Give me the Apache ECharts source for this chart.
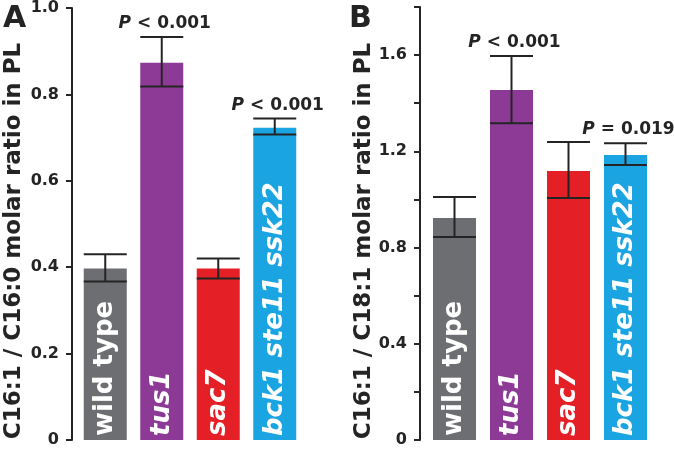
<!DOCTYPE html>
<html>
<head>
<meta charset="utf-8">
<script src="https://cdn.jsdelivr.net/npm/echarts@6/dist/echarts.min.js"></script>
<style>
  html, body { margin: 0; padding: 0; background: #fff; }
  #chart { width: 674px; height: 454px; }
</style>
</head>
<body>
<div id="chart"></div>
<script>
// strains (same order in both panels)
const categories = ['wild type', 'tus1', 'sac7', 'bck1 ste11 ssk22'];

// panel A: C16:1 / C16:0
const ratioA = [0.397, 0.873, 0.397, 0.723];
const errLowA = [0.367, 0.818, 0.374, 0.707];
const errHighA = [0.43, 0.933, 0.42, 0.744];
const pLabelsA = ['', 'P < 0.001', '', 'P < 0.001'];

// panel B: C16:1 / C18:1
const ratioB = [0.923, 1.455, 1.118, 1.185];
const errLowB = [0.844, 1.317, 1.006, 1.143];
const errHighB = [1.01, 1.596, 1.239, 1.234];
const pLabelsB = ['', 'P < 0.001', '', 'P = 0.019'];

const barColors = ['#6d6e71', '#8d3a97', '#e41f26', '#1ba4e2'];
const FONT = 'DejaVu Sans';
const INK = '#242424';

function barData(values) {
  return values.map((v, i) => ({
    value: v,
    itemStyle: { color: barColors[i] },
    label: { fontStyle: categories[i] === 'wild type' ? 'normal' : 'italic' },
  }));
}

function errData(lo, hi, p) {
  return lo.map((v, i) => [i, v, hi[i], p[i]]);
}

// error bar: whisker + caps, plus the P label above
function renderErr(params, api) {
  const x = api.value(0);
  const lo = api.coord([x, api.value(1)]);
  const hi = api.coord([x, api.value(2)]);
  const half = 21.5;
  const ls = { stroke: INK, lineWidth: 2 };
  const children = [
    { type: 'line', shape: { x1: lo[0], y1: lo[1], x2: hi[0], y2: hi[1] }, style: ls },
    { type: 'line', shape: { x1: hi[0] - half, y1: hi[1], x2: hi[0] + half, y2: hi[1] }, style: ls },
    { type: 'line', shape: { x1: lo[0] - half, y1: lo[1], x2: lo[0] + half, y2: lo[1] }, style: ls },
  ];
  const p = api.value(3);
  if (p) {
    children.push({
      type: 'text',
      x: hi[0] + 3,
      y: hi[1] - 5,
      style: {
        text: '{i|P}{n|' + p.slice(1) + '}',
        align: 'center',
        verticalAlign: 'bottom',
        rich: {
          i: { fontFamily: FONT, fontWeight: 'bold', fontStyle: 'italic', fontSize: 17, fill: INK },
          n: { fontFamily: FONT, fontWeight: 'bold', fontSize: 17, fill: INK },
        },
      },
    });
  }
  return { type: 'group', children };
}

function yAxisFor(gridIndex, max, offset, showLabel) {
  return {
    type: 'value',
    gridIndex,
    min: 0,
    max,
    interval: 0.2,
    offset,
    axisLine: { show: true, lineStyle: { color: INK, width: 2 } },
    axisTick: { show: true, length: 6, lineStyle: { color: INK, width: 2 } },
    splitLine: { show: false },
    axisLabel: {
      margin: 13,
      color: INK,
      fontFamily: FONT,
      fontWeight: 'bold',
      fontSize: 16,
      formatter: (v) => (showLabel(v) ? (v === 0 ? '0' : v.toFixed(1)) : ''),
    },
  };
}

const barLabel = {
  show: true,
  position: 'insideBottom',
  rotate: 90,
  align: 'left',
  verticalAlign: 'middle',
  distance: 4,
  color: '#fff',
  fontFamily: FONT,
  fontWeight: 'bold',
  fontSize: 26,
  formatter: (p) => p.name,
};

const chart = echarts.init(document.getElementById('chart'), null, { renderer: 'canvas' });
chart.setOption({
  animation: false,
  grid: [
    { left: 77, top: 7, width: 226, height: 433 },
    { left: 426, top: 7, width: 228, height: 433 },
  ],
  xAxis: [0, 1].map((g) => ({
    type: 'category',
    gridIndex: g,
    data: categories,
    axisLine: { show: false },
    axisTick: { show: false },
    axisLabel: { show: false },
  })),
  yAxis: [
    yAxisFor(0, 1.0, 5, () => true),
    yAxisFor(1, 1.8, 6, (v) => Math.round(v * 10) % 4 === 0),
  ],
  series: [
    { type: 'bar', xAxisIndex: 0, yAxisIndex: 0, barWidth: 43, data: barData(ratioA), label: barLabel },
    { type: 'bar', xAxisIndex: 1, yAxisIndex: 1, barWidth: 43, data: barData(ratioB), label: barLabel },
    { type: 'custom', xAxisIndex: 0, yAxisIndex: 0, z: 3, renderItem: renderErr, data: errData(errLowA, errHighA, pLabelsA) },
    { type: 'custom', xAxisIndex: 1, yAxisIndex: 1, z: 3, renderItem: renderErr, data: errData(errLowB, errHighB, pLabelsB) },
  ],
  graphic: [
    { type: 'text', x: 3, y: 4, style: { text: 'A', fontFamily: FONT, fontWeight: 'bold', fontSize: 30, fill: INK } },
    { type: 'text', x: 349, y: 4, style: { text: 'B', fontFamily: FONT, fontWeight: 'bold', fontSize: 30, fill: INK } },
    {
      type: 'text', x: 14, y: 241, rotation: Math.PI / 2,
      style: { text: 'C16:1 / C16:0 molar ratio in PL', align: 'center', verticalAlign: 'middle', fontFamily: FONT, fontWeight: 'bold', fontSize: 23, fill: INK },
    },
    {
      type: 'text', x: 364, y: 241, rotation: Math.PI / 2,
      style: { text: 'C16:1 / C18:1 molar ratio in PL', align: 'center', verticalAlign: 'middle', fontFamily: FONT, fontWeight: 'bold', fontSize: 23, fill: INK },
    },
  ],
});
</script>
</body>
</html>
